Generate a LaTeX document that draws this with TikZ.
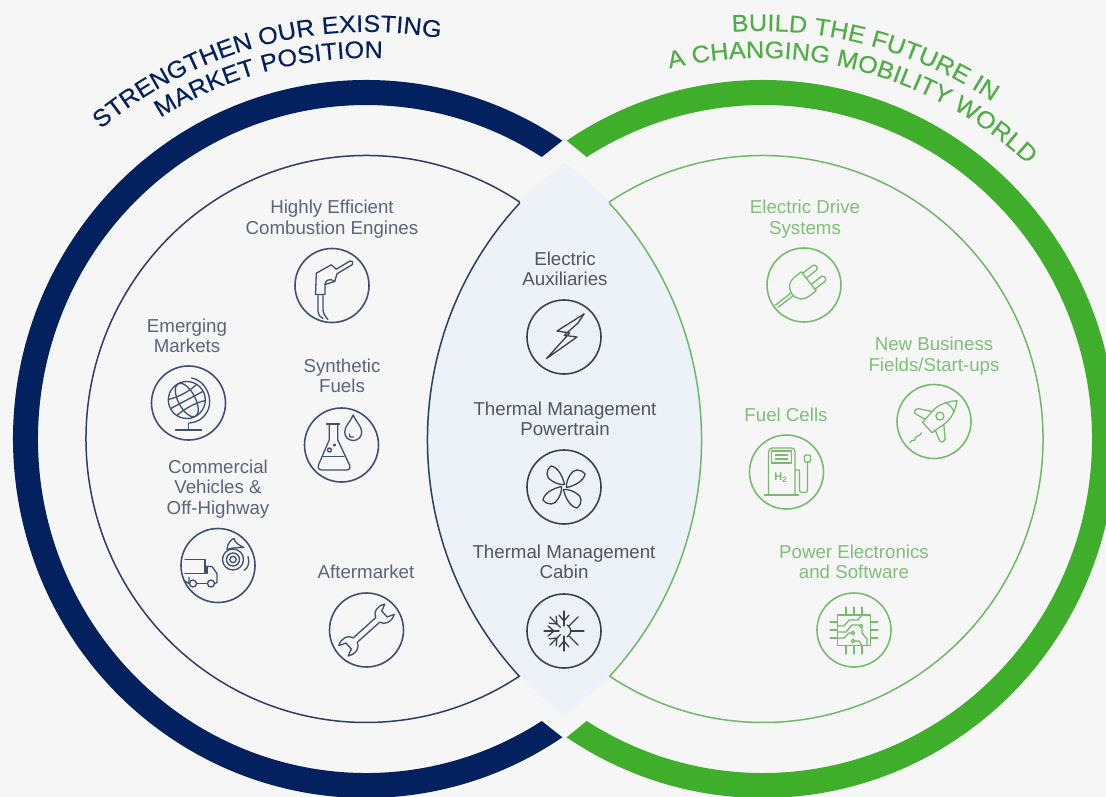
\documentclass[tikz,border=0pt]{standalone}
\usepackage{fontspec}
\setmainfont{Liberation Sans}
\newfontfamily\ttlfam[FakeStretch=1.055,FakeBold=0.2]{Liberation Sans}
\usetikzlibrary{decorations.text,calc}
\definecolor{bgc}{HTML}{F6F6F6}
\definecolor{lensc}{HTML}{EDF2F9}
\definecolor{navyc}{HTML}{03215F}
\definecolor{greenc}{HTML}{3FAE2A}
\definecolor{navyline}{HTML}{2F3D63}
\definecolor{greenline}{HTML}{6FB866}
\definecolor{navytext}{HTML}{5A647C}
\definecolor{darktext}{HTML}{50555F}
\definecolor{greentext}{HTML}{7FBF79}
\definecolor{navyicon}{HTML}{3F4E73}
\definecolor{darkicon}{HTML}{3C4048}
\definecolor{greenicon}{HTML}{78BB70}
\definecolor{titleg}{HTML}{4FAE45}
\newcommand{\ttlblue}{\ttlfam\fontsize{24}{26}\selectfont\color{navyc}}
\newcommand{\ttlgreen}{\ttlfam\fontsize{24}{26}\selectfont\color{titleg}}
\tikzset{
  ringnode/.style={circle,minimum size=74pt,inner sep=0pt,line width=1.6pt},
  blueico/.style={ringnode,draw=navyicon},
  midico/.style={ringnode,draw=darkicon},
  greenico/.style={ringnode,draw=greenicon},
  glyph/.style={line width=1.3pt,line join=round,line cap=round},
  bluegl/.style={glyph,draw=navyicon},
  midgl/.style={glyph,draw=darkicon},
  greengl/.style={glyph,draw=greenicon},
  lab/.style={align=center,font=\fontsize{18.7}{20.5}\selectfont,inner sep=0pt},
  lblue/.style={lab,text=navytext},
  lmid/.style={lab,text=darktext},
  lgreen/.style={lab,text=greentext},
}
\begin{document}
\begin{tikzpicture}[x=1pt,y=-1pt]
\useasboundingbox (0,0) rectangle (1106,797);
\fill[bgc] (0,0) rectangle (1106,797);
\clip (0,0) rectangle (1106,797);
\coordinate (cb) at (366,439);
\coordinate (cg) at (763,439);
\coordinate (tb) at (368,448);
\coordinate (tg) at (760,448);
% lens
\fill[lensc] (cb) ++(53.9:337pt and 342pt)
  arc[start angle=53.9,end angle=-53.9,x radius=337pt,y radius=342pt]
  arc[start angle=233.9,end angle=126.1,x radius=337pt,y radius=342pt] -- cycle;
% rings
\fill[navyc] (cb) ++(56.2:353pt and 359pt)
  arc[start angle=56.2,end angle=303.8,x radius=353pt,y radius=359pt]
  -- ($(cb)+(302.4:328pt and 334pt)$)
  arc[start angle=302.4,end angle=57.6,x radius=328pt,y radius=334pt] -- cycle;
\fill[greenc] (cg) ++(123.8:353pt and 359pt)
  arc[start angle=123.8,end angle=-123.8,x radius=353pt,y radius=359pt]
  -- ($(cg)+(-122.4:329pt and 334pt)$)
  arc[start angle=-122.4,end angle=122.4,x radius=329pt,y radius=334pt] -- cycle;
% crescents
\draw[navyline,line width=1.5pt,line join=miter] (cb) ++(56.8:280pt and 283.5pt)
  arc[start angle=56.8,end angle=303.2,x radius=280pt,y radius=283.5pt]
  arc[start angle=223.4,end angle=136.6,x radius=336pt,y radius=344pt] -- cycle;
\draw[greenline,line width=1.5pt,line join=miter] (cg) ++(123.2:280pt and 283.5pt)
  arc[start angle=123.2,end angle=-123.2,x radius=280pt,y radius=283.5pt]
  arc[start angle=-43.4,end angle=43.4,x radius=336pt,y radius=344pt] -- cycle;
% titles
\path[decorate,decoration={text along path,text align=center,text={|\ttlblue|STRENGTHEN OUR EXISTING}}]
  (tb) ++(165:416pt) arc[start angle=165,end angle=45,radius=416pt];
\path[decorate,decoration={text along path,text align=center,text={|\ttlblue|MARKET POSITION}}]
  (tb) ++(165:390pt) arc[start angle=165,end angle=45,radius=390pt];
\path[decorate,decoration={text along path,text align=center,text={|\ttlgreen|BUILD THE FUTURE IN}}]
  (tg) ++(135:417pt) arc[start angle=135,end angle=15,radius=417pt];
\path[decorate,decoration={text along path,text align=center,text={|\ttlgreen|A CHANGING MOBILITY WORLD}}]
  (tg) ++(135:390pt) arc[start angle=135,end angle=15,radius=390pt];
% labels
\node[lblue] (lhigh) at (332,219) {Highly Efficient\\Combustion Engines};
\node[lblue] (lemer) at (187,336) {Emerging\\Markets};
\node[lblue] (lsyn) at (342,376) {Synthetic\\Fuels};
\node[lblue] (lcomm) at (218,489) {Commercial\\Vehicles \&\\Off-Highway};
\node[lblue] (lafter) at (366,572) {Aftermarket};
\node[lmid] (lelec) at (565,269) {Electric\\Auxiliaries};
\node[lmid] (lthp) at (565,419) {Thermal Management\\Powertrain};
\node[lmid] (lthc) at (564,562) {Thermal Management\\Cabin};
\node[lgreen] (ldrive) at (805,219) {Electric Drive\\Systems};
\node[lgreen] (lnew) at (934,356) {New Business\\Fields/Start-ups};
\node[lgreen] (lfuel) at (786,415) {Fuel Cells};
\node[lgreen] (lpow) at (854,562) {Power Electronics\\and Software};
% icon rings
\node[blueico] (nozzle) at (332,285.5) {};
\node[blueico] (globe) at (188.5,403) {};
\node[blueico] (flask) at (341.5,445) {};
\node[blueico] (truck) at (218,565.5) {};
\node[blueico] (wrench) at (366.5,630) {};
\node[midico] (bolt) at (564,337) {};
\node[midico] (fan) at (564,487) {};
\node[midico] (snow) at (564,631) {};
\node[greenico] (plug) at (804,285) {};
\node[greenico] (rocket) at (934,421.5) {};
\node[greenico] (pump) at (786.5,472) {};
\node[greenico] (chip) at (854,630) {};
% nozzle glyph
\begin{scope}[shift={(nozzle.center)},bluegl]
\draw (-15.7,-12.3) -- (-0.7,-20.7) -- (4.3,-16.3) -- (18,-24.5) .. controls (20,-25.5) and (22,-23) .. (20.5,-21) -- (5,-11.7) -- (2.7,-4) -- (-7,-1) -- (-7,9) -- (-16.5,9) -- cycle;
\draw (-7,-1) .. controls (-7,-5) and (-2,-8) .. (2.7,-4);
\draw (-14,10) -- (-14,26) .. controls (-14,29) and (-12,32) .. (-9,33);
\draw (-9,10) -- (-9,24) .. controls (-9,27) and (-7,31) .. (-4,34);
\end{scope}
% globe glyph
\begin{scope}[shift={(globe.center)},bluegl]
\draw (-1.7,-3) circle[radius=18.5pt];
\begin{scope}[shift={(-1.7,-3)},rotate=28]
\draw (0,0) ellipse[x radius=8.5pt,y radius=18.5pt];
\draw (-18,0) -- (18,0);
\draw (-15.5,-9) .. controls (-6,-6.5) and (6,-6.5) .. (15.5,-9);
\draw (-15.5,9) .. controls (-6,6.5) and (6,6.5) .. (15.5,9);
\end{scope}
\draw (3,-25) .. controls (18,-22) and (24,-5) .. (20,6) .. controls (16,15) and (10,19) .. (1,20);
\draw (-13,27) -- (13,27);
\draw (0,20) -- (0,27);
\end{scope}
% flask glyph
\begin{scope}[shift={(flask.center)},bluegl]
\draw (-15,-21) -- (-2,-21);
\draw (-12.3,-21) -- (-12.3,-5) -- (-23,20) .. controls (-24,24) and (-22,25) .. (-20,25) -- (5,25) .. controls (8,25) and (9,23) .. (8,20) -- (-3.7,-5) -- (-3.7,-21);
\draw (-18,11.5) -- (2.5,11.5);
\draw (-12,5) circle[radius=2pt];
\draw (-7,0) circle[radius=1pt];
\draw (11.7,-30) .. controls (9,-23) and (3.2,-19) .. (3.2,-13) .. controls (3.2,-8) and (7,-4.5) .. (11.7,-4.5) .. controls (16.4,-4.5) and (20.2,-8) .. (20.2,-13) .. controls (20.2,-19) and (14.4,-23) .. (11.7,-30);
\draw (8,-11) .. controls (7,-8) and (10,-7) .. (12,-8);
\end{scope}
% truck and tyre glyph
\begin{scope}[shift={(truck.center)},bluegl]
\draw (-33,-6) -- (-13,-6) -- (-13,8);
\draw (-33,8) -- (-13,8);
\draw (-13,1) -- (-6,1) -- (-1,8) -- (-1,17) -- (-3,18);
\draw (-11,1) -- (-11,8);
\draw (-29,12) -- (-29,18) -- (-34,15);
\draw (-21,18) -- (-11,18);
\draw (-25,18) circle[radius=3.5pt];
\draw (-7,18) circle[radius=3.5pt];
\draw (15,-6) circle[radius=10.5pt];
\draw (15,-6) circle[radius=6.5pt];
\draw (15,-6) circle[radius=3.2pt];
\draw (9,-16) .. controls (9,-22) and (14,-27) .. (16,-27) .. controls (17,-22) and (22,-20) .. (26,-18) .. controls (22,-18) and (14,-18) .. (9,-16);
\draw (30,-9) .. controls (32,-3) and (30,3) .. (26,5);
\end{scope}
% wrench glyph
\begin{scope}[shift={(wrench.center)},rotate=42,bluegl]
\draw (-15,3) -- (15,3) .. controls (17,9) and (24,11) .. (31,7) -- (24,4) -- (24,-4) -- (31,-7) .. controls (24,-11) and (17,-9) .. (15,-3) -- (-15,-3)
 .. controls (-17,-9) and (-24,-11) .. (-31,-7) -- (-24,-4) -- (-24,4) -- (-31,7) .. controls (-24,11) and (-17,9) .. (-15,3) -- cycle;
\end{scope}
% bolt glyph
\begin{scope}[shift={(bolt.center)},midgl]
\draw (20,-23) -- (-7,-6) -- (5.7,-4) -- (-17.7,21.7) -- (13,0) -- (0.3,-1.7) -- (14,-14);
\draw (14,-14) -- (20,-23);
\end{scope}
% fan glyph
\foreach \a in {0,90,180,270}{
\begin{scope}[shift={(fan.center)},rotate=\a,midgl]
\draw (0.5,-2.5) .. controls (-1,-10) and (-6,-20) .. (-13,-21) .. controls (-19,-16) and (-18,-9) .. (-12,-6) .. controls (-8,-3.5) and (-3,-2) .. (0.5,-2.5);
\end{scope}}
% snow glyph
\begin{scope}[shift={(snow.center)},midgl]
\draw (3,-6) arc[start angle=63.4,end angle=-63.4,radius=6.7pt];
\foreach \a in {45,0,-45}{
  \begin{scope}[rotate=\a]\draw (7,0) -- (20,0);\end{scope}}
\foreach \a in {90,135,180,225,270}{
  \begin{scope}[rotate=\a]
  \draw (5,0) -- (20,0);
  \draw (10,0) -- (16,-5);
  \draw (10,0) -- (16,5);
  \end{scope}}
\end{scope}
% plug glyph
\begin{scope}[shift={(plug.center)},rotate=38,greengl]
\draw (6,-12) -- (-2,-12) .. controls (-12,-12) and (-15,-5) .. (-15,0) .. controls (-15,5) and (-12,12) .. (-2,12) -- (6,12) -- cycle;
\draw (6,-10) -- (19,-10) .. controls (22,-10) and (22,-4) .. (19,-4) -- (6,-4);
\draw (6,4) -- (19,4) .. controls (22,4) and (22,10) .. (19,10) -- (6,10);
\draw (-15,-1.7) -- (-35,-1.7);
\draw (-15,1.7) -- (-34,1.7);
\end{scope}
% rocket glyph
\begin{scope}[shift={(rocket.center)},rotate=42,greengl]
\draw (-9,-7) -- (8,-9) .. controls (18,-9) and (26,-4) .. (31,0) .. controls (26,4) and (18,9) .. (8,9) -- (-9,7) -- cycle;
\draw (21,-6.5) .. controls (23,-3) and (23,3) .. (21,6.5);
\draw (8,0) circle[radius=4pt];
\draw (5,-9) -- (-3,-20) .. controls (-7,-23) and (-10,-20) .. (-8,-16) -- (-5,-7.5);
\draw (5,9) -- (-3,20) .. controls (-7,23) and (-10,20) .. (-8,16) -- (-5,7.5);
\draw (-32,0) .. controls (-29,-3) and (-28,3) .. (-25,0) .. controls (-23,-2) and (-21,2) .. (-17,0);
\end{scope}
% pump glyph
\begin{scope}[shift={(pump.center)},greengl]
\draw (-18,23) -- (-18,-20) .. controls (-18,-23) and (-16,-24) .. (-14,-24) -- (5,-24) .. controls (7,-24) and (8.5,-23) .. (8.5,-20) -- (8.5,23);
\draw (-15,-21) rectangle (5,-9);
\draw (-11,-17) -- (1,-17);
\draw (-11,-13) -- (1,-13);
\draw (-22,23) -- (12,23);
\draw (8.5,-2) -- (13,-2) -- (13,18) .. controls (13,20) and (14,20.5) .. (16,20.5) -- (18,20.5) .. controls (20,20.5) and (21,20) .. (21,18) -- (21,-10);
\draw[rounded corners=1pt] (18,-17) rectangle (24,-10);
\node[font=\bfseries\fontsize{11}{11}\selectfont,text=greenicon,inner sep=0pt] (htwo) at (-6,6) {H\raisebox{-2pt}{\fontsize{8}{8}\selectfont 2}};
\end{scope}
% chip glyph
\begin{scope}[shift={(chip.center)},greengl]
\draw (-16.7,-15) rectangle (16.7,15.7);
\foreach \p in {-8,0,8}{
  \draw (\p,-23) -- (\p,-15);
  \draw (\p,15.7) -- (\p,24);
  \draw (-24,\p) -- (-16.7,\p);
  \draw (16.7,\p) -- (24,\p);
}
\draw (-16.7,-4) -- (-10,-4) -- (-5,-10) -- (4,-10) -- (8,-15);
\draw (-16.7,2) -- (-8,2) -- (-2,-5) -- (5,-5);
\draw (-16.7,8) -- (-10,8) -- (-5,3) -- (-3,3);
\draw (-1,3) circle[radius=1.8pt];
\draw (7,-4) circle[radius=1.8pt];
\draw (8,-2) -- (8,3) -- (13,9) -- (13,15.7);
\draw (-1,11) circle[radius=1.8pt];
\draw (1,11) -- (5,11) -- (8,15.7);
\end{scope}
\end{tikzpicture}
\end{document}
